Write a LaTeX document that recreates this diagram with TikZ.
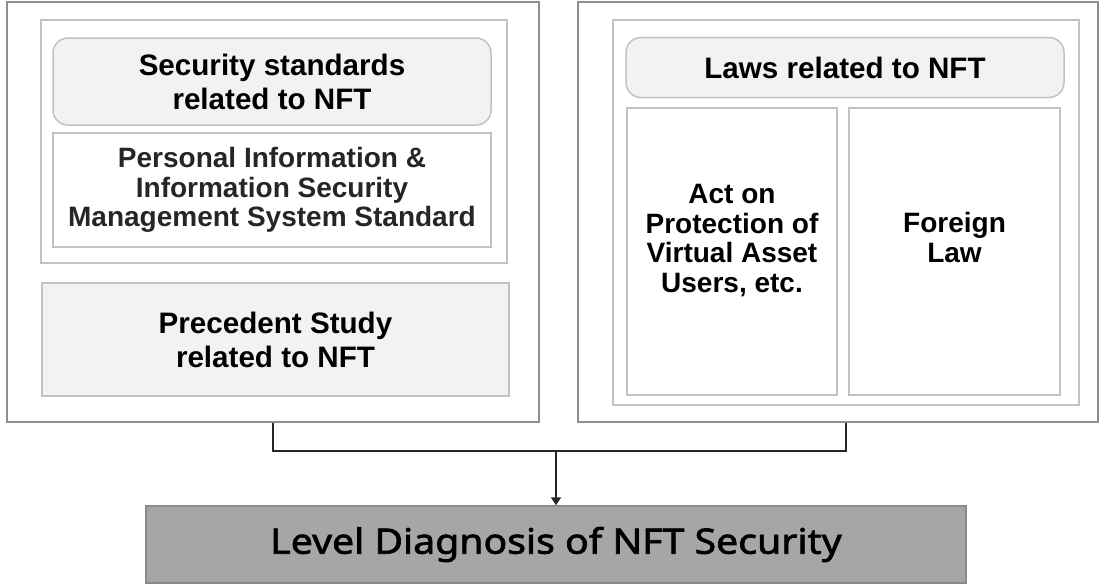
\documentclass[tikz,border=0pt]{standalone}
\usepackage{fontspec}
\setmainfont{Liberation Sans}
\newfontfamily\levelfont[FakeStretch=1.12,FakeBold=2]{Noto Sans}
\usepackage{xcolor}
\usetikzlibrary{arrows.meta}

\definecolor{framegray}{HTML}{8E8E8E}
\definecolor{linegray}{HTML}{C2C2C2}
\definecolor{boxfill}{HTML}{F2F2F2}
\definecolor{levelfill}{HTML}{A6A6A6}
\definecolor{levelline}{HTML}{8A8A8A}
\definecolor{darktext}{HTML}{262626}

\begin{document}
\begin{tikzpicture}[x=0.5pt, y=-0.5pt,
  outerbox/.style={draw=framegray, line width=0.75pt, inner sep=0pt},
  groupbox/.style={draw=linegray, line width=0.75pt, inner sep=0pt},
  titlebox/.style={draw=linegray, line width=0.75pt, fill=boxfill, rounded corners=7.5pt, align=center,
    font=\bfseries\fontsize{14.8}{17}\selectfont},
  itembox/.style={draw=linegray, line width=0.75pt, align=center, inner sep=0pt,
    font=\bfseries\fontsize{14}{14.8}\selectfont},
  conn/.style={draw=black!85, line width=0.9pt}]
 \useasboundingbox (0,0) rectangle (1102,585);

 % left column: standards and precedents
 \node[outerbox, minimum width=266pt, minimum height=210pt] (leftouter) at (273,212) {};
 \node[groupbox, minimum width=233pt, minimum height=121.5pt] (leftgroup) at (274,141.5) {};
 \node[titlebox, minimum width=219pt, minimum height=43.5pt] (secstd) at (272,81.5)
   {Security standards\\related to NFT};
 \node[itembox, text=darktext, minimum width=219pt, minimum height=57pt] (pims) at (272,190)
   {Personal Information \&\\Information Security\\Management System Standard};
 \node[itembox, fill=boxfill, font=\bfseries\fontsize{14.8}{17}\selectfont,
   minimum width=233.5pt, minimum height=56.5pt] (precedent) at (275.5,339.5)
   {Precedent Study\\related to NFT};

 % right column: laws (text sits a bit above the middle)
 \node[outerbox, minimum width=260pt, minimum height=210pt] (rightouter) at (838,212) {};
 \node[groupbox, minimum width=233pt, minimum height=192.5pt] (rightgroup) at (846,212.5) {};
 \node[titlebox, minimum width=219pt, minimum height=30pt] (laws) at (845,67.5)
   {Laws related to NFT};
 \node[itembox, text depth=13pt, minimum width=105pt, minimum height=143.5pt] (act) at (732,251.5)
   {Act on\\Protection of\\Virtual Asset\\Users, etc.};
 \node[itembox, text depth=14pt, minimum width=105.5pt, minimum height=143.5pt] (foreign) at (954.5,251.5)
   {Foreign\\Law};

 % result
 \node[draw=levelline, line width=0.75pt, fill=levelfill, minimum width=410pt, minimum height=38.5pt,
   font=\levelfont\fontsize{17.5}{20}\selectfont] (level) at (556,544.5)
   {Level Diagnosis of NFT Security};

 \draw[conn] (leftouter.south) -- ++(0,28) coordinate (join) -| (rightgroup.south |- rightouter.south);
 \draw[conn, -{Triangle[length=4pt,width=5pt]}] (level.north |- join) -- (level.north);
\end{tikzpicture}
\end{document}
